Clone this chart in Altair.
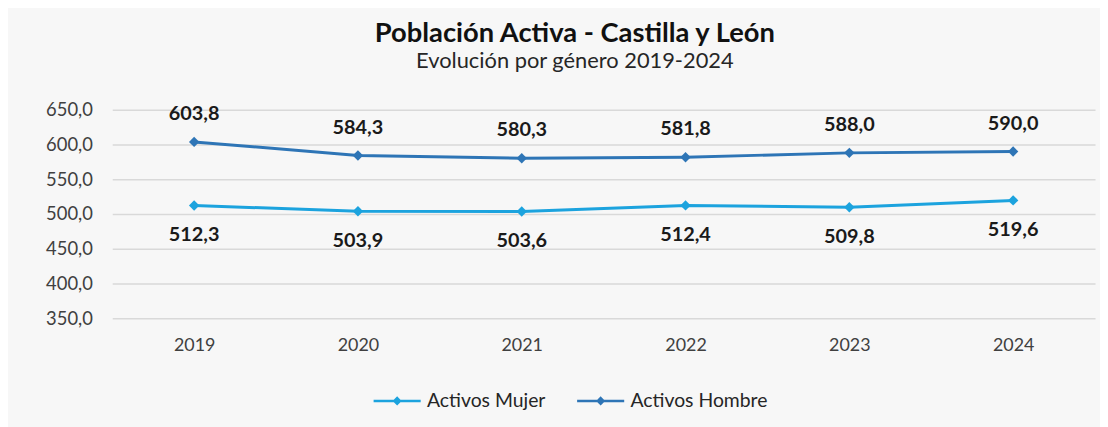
import altair as alt
import pandas as pd

years = ["2019", "2020", "2021", "2022", "2023", "2024"]
mujer = [512.3, 503.9, 503.6, 512.4, 509.8, 519.6]
hombre = [603.8, 584.3, 580.3, 581.8, 588.0, 590.0]
series = ["Activos Mujer", "Activos Hombre"]
colors = ["#1CA3DE", "#2E75B6"]
y_ticks = [350, 400, 450, 500, 550, 600, 650]

rows = []
for s, vals in zip(series, [mujer, hombre]):
    for yr, v in zip(years, vals):
        rows.append({"year": yr, "value": v, "series": s,
                     "label": f"{v:.1f}".replace(".", ",")})
df = pd.DataFrame(rows)

FONT = "Lato"
color_scale = alt.Scale(domain=series, range=colors)

x_enc = alt.X("year:O", sort=years, scale=alt.Scale(type="point", padding=0.5),
              axis=alt.Axis(title=None, labelAngle=0, ticks=False, domain=False,
                            labelFont=FONT, labelFontSize=18, labelColor="#404040",
                            labelPadding=18, grid=False))
y_enc = alt.Y("value:Q", scale=alt.Scale(domain=[350, 650], nice=False, zero=False),
              axis=alt.Axis(title=None, values=y_ticks, ticks=False,
                            domain=False, labelFont=FONT, labelFontSize=18.5,
                            labelColor="#404040", labelPadding=20,
                            gridColor="#d9d9d9", gridWidth=1.5,
                            labelExpr="replace(format(datum.value, '.1f'), '.', ',')"))

legend_path = "M-1,0L1,0M0,-0.12L0.12,0L0,0.12L-0.12,0Z"
legend = alt.Legend(title=None, orient="none", legendX=262, legendY=268,
                    direction="horizontal", symbolType=legend_path,
                    symbolSize=2250, symbolStrokeWidth=2.5,
                    labelFont=FONT, labelFontSize=19.5, labelColor="#262626",
                    columnPadding=26, labelOffset=5)

base = alt.Chart(df)

lines = base.mark_line(strokeWidth=3).encode(
    x=x_enc, y=y_enc,
    color=alt.Color("series:N", scale=color_scale, sort=series, legend=legend),
)

points = base.mark_point(shape="diamond", filled=True, size=110, opacity=1).encode(
    x=x_enc, y=y_enc,
    color=alt.Color("series:N", scale=color_scale, sort=series, legend=legend),
)

text_h = base.transform_filter(alt.datum.series == "Activos Hombre").mark_text(
    font=FONT, fontSize=20, fontWeight="bold", color="#1a1a1a", dy=-28, baseline="middle"
).encode(x=x_enc, y=y_enc, text="label:N")

text_m = base.transform_filter(alt.datum.series == "Activos Mujer").mark_text(
    font=FONT, fontSize=20, fontWeight="bold", color="#1a1a1a", dy=30, baseline="middle"
).encode(x=x_enc, y=y_enc, text="label:N")

chart = alt.layer(lines, points, text_h, text_m).properties(
    width=990, height=210,
    autosize="none",
    padding={"left": 105, "top": 101, "right": 5, "bottom": 108},
    background="#f7f7f7",
    title=alt.TitleParams(
        text="Población Activa - Castilla y León",
        subtitle="Evolución por género 2019-2024",
        font=FONT, fontSize=27.5, fontWeight="bold", color="#111111",
        subtitleFont=FONT, subtitleFontSize=22, subtitleColor="#262626",
        anchor="middle", dx=-29, offset=29, subtitlePadding=4,
    ),
).configure_view(stroke=None)

chart.save("out.html", embed_options={"renderer": "svg", "actions": False})
